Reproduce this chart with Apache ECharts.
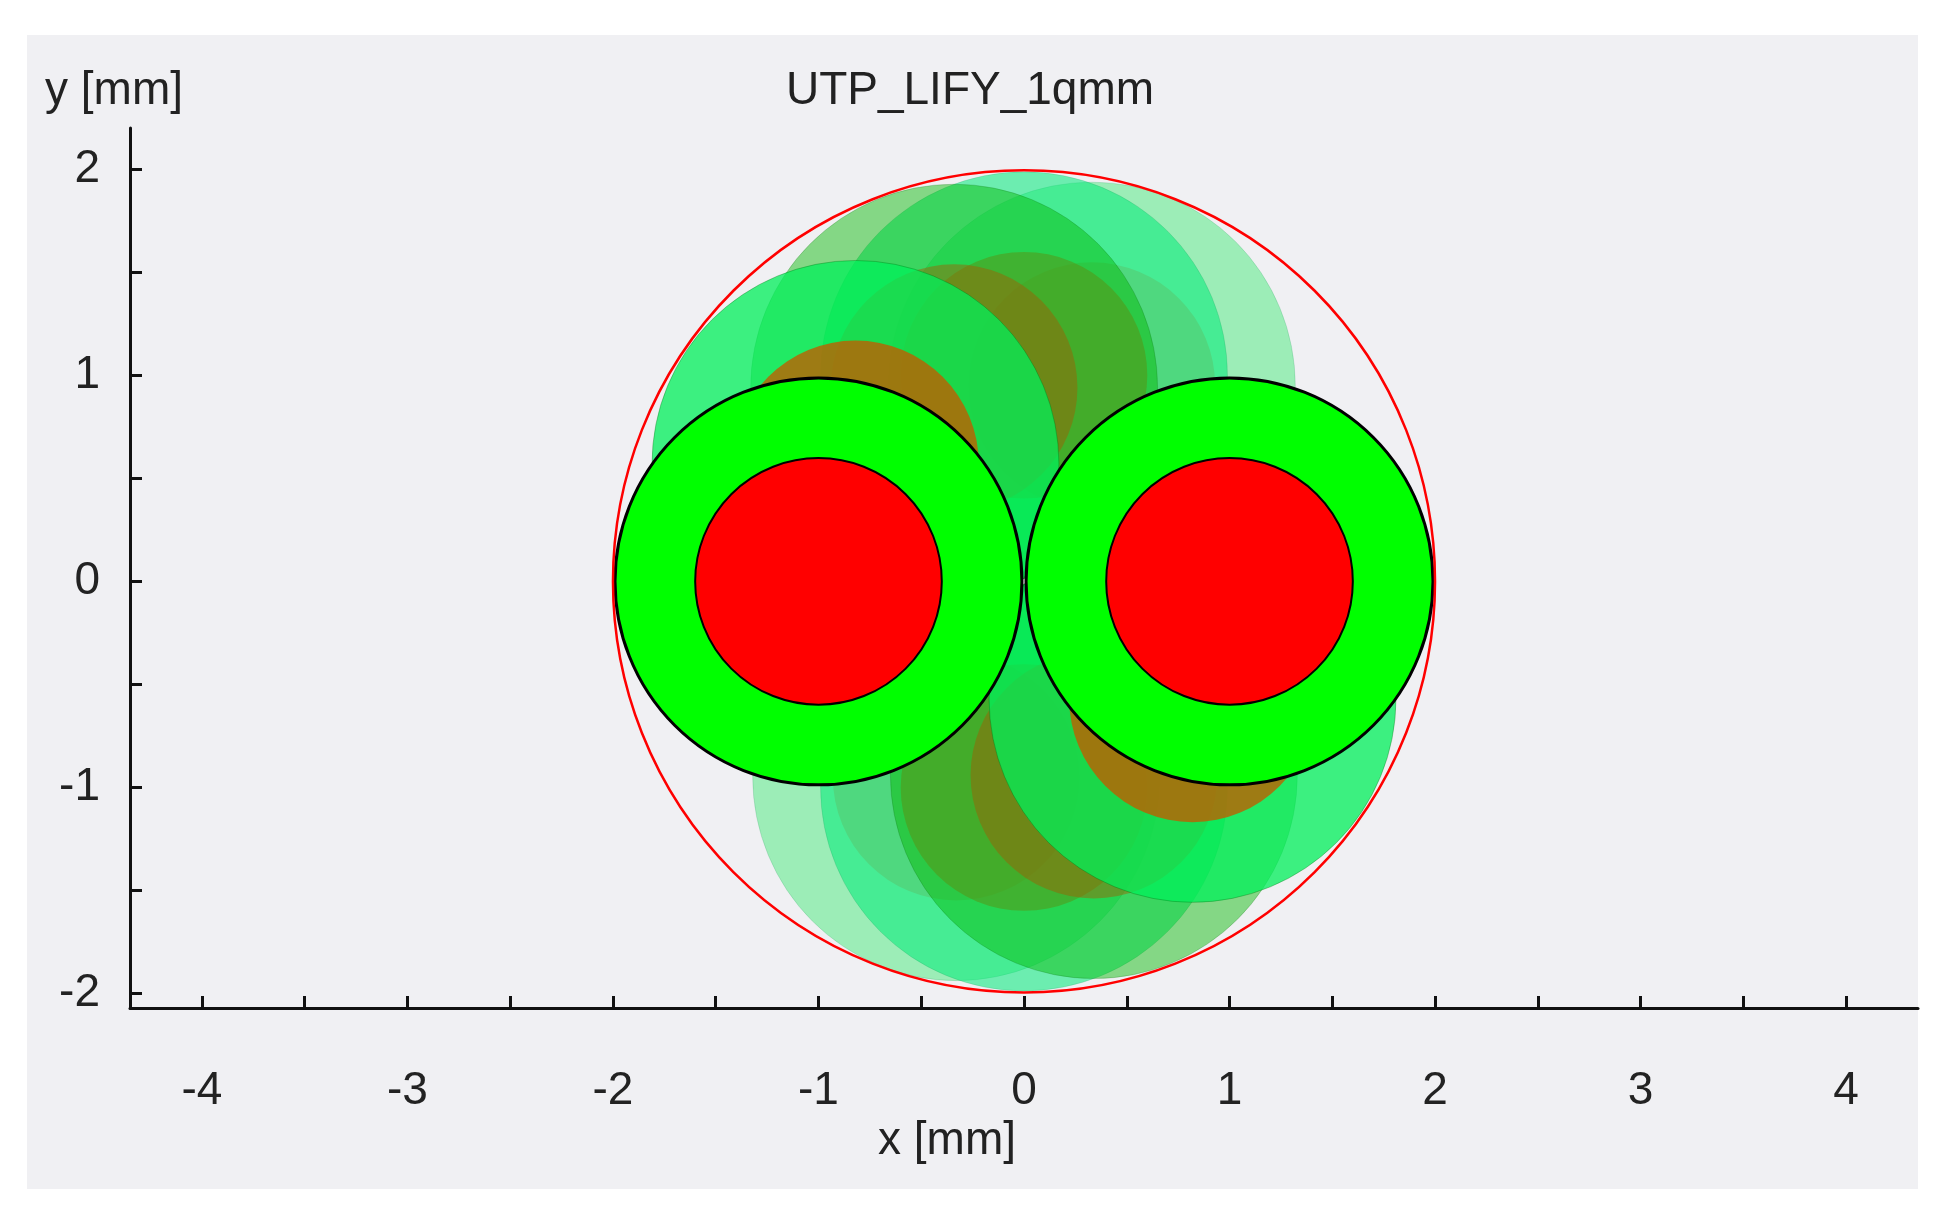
<!DOCTYPE html>
<html><head><meta charset="utf-8">
<script src="https://cdn.jsdelivr.net/npm/echarts@6/dist/echarts.min.js"></script>
<style>html,body{margin:0;background:#fff}#c{width:1940px;height:1218px}</style>
</head><body><div id="c"></div>
<script>
// data (mm)
const xTicks = [-4,-3.5,-3,-2.5,-2,-1.5,-1,-0.5,0,0.5,1,1.5,2,2.5,3,3.5,4];
const yTicks = [-2,-1.5,-1,-0.5,0,0.5,1,1.5,2];
const xLabels = [-4,-3,-2,-1,0,1,2,3,4];
const yLabels = [-2,-1,0,1,2];
const insulR = 0.99, coreR = 0.6, outerR = 2.0;
// twisted-pair shadow copies: centers of conductor 1 (conductor 2 is opposite)
const pairA = [0.33, 0.95];
const pairB = [0.0, 1.0];
const pairC = [-0.34, 0.94];
const pairD = [-0.82, 0.57];
const mainPair = [1.0, 0.0];
const outerCenter = [0, 0];

function pts(p, r){ return [[p[0],p[1],r],[-p[0],-p[1],r]]; }
function layer(data, fill, stroke, lw){
  return {type:'custom', coordinateSystem:'cartesian2d', data:data, silent:true,
    renderItem:function(params, api){
      const c = api.coord([api.value(0), api.value(1)]);
      const r = api.size([api.value(2), 0])[0];
      return {type:'circle', shape:{cx:c[0], cy:c[1], r:r},
        style:{fill:fill, stroke:stroke||null, lineWidth:lw||0}};
    }};
}
const series = [
  layer(pts(pairA, insulR), 'rgba(110,235,150,0.65)', 'rgba(0,120,60,0.15)', 1),
  layer(pts(pairA, coreR), 'rgba(195,150,90,0.5)'),
  layer(pts(pairB, insulR), 'rgba(0,235,120,0.55)', 'rgba(0,120,60,0.15)', 1),
  layer(pts(pairB, coreR), 'rgba(175,100,20,0.45)'),
  layer(pts(pairC, insulR), 'rgba(0,185,0,0.45)', 'rgba(0,90,0,0.2)', 1),
  layer(pts(pairC, coreR), 'rgba(165,90,0,0.45)'),
  layer(pts(pairD, insulR), 'rgba(0,240,90,0.75)', 'rgba(0,90,0,0.3)', 1),
  layer(pts(pairD, coreR), 'rgba(190,95,0,0.8)'),
  layer(pts(mainPair, insulR), '#00ff00', '#000', 3),
  layer(pts(mainPair, coreR), '#ff0000', '#000', 2),
  layer([[outerCenter[0], outerCenter[1], outerR]], 'rgba(0,0,0,0)', '#ff0000', 2.5)
];
const font = '"Liberation Sans", Arial, sans-serif';
const chart = echarts.init(document.getElementById('c'));
chart.setOption({
  animation:false,
  backgroundColor:'#ffffff',
  graphic:[
    {type:'rect', z:-10, shape:{x:27,y:35,width:1891,height:1154}, style:{fill:'#f0f0f3'}},
    {type:'text', left:45, top:68, style:{text:'y [mm]', font:'46px '+font, fill:'#222'}},
    {type:'text', left:'center', top:68, style:{text:'UTP_LIFY_1qmm', font:'46px '+font, fill:'#222'}, x:-0},
    {type:'text', left:878, top:1118, style:{text:'x [mm]', font:'46px '+font, fill:'#222'}}
  ],
  grid:{left:130, right:22, top:128, bottom:210},
  xAxis:{type:'value', min:-4.35, max:4.35, splitLine:{show:false},
    axisLine:{onZero:false, lineStyle:{color:'#111', width:3}},
    axisTick:{customValues:xTicks, length:12, inside:true, lineStyle:{color:'#111', width:3}},
    axisLabel:{customValues:xLabels, margin:60, fontSize:46, fontFamily:font, color:'#222'}},
  yAxis:{type:'value', min:-2.07, max:2.2, splitLine:{show:false},
    axisLine:{onZero:false, lineStyle:{color:'#111', width:3}},
    axisTick:{customValues:yTicks, length:12, inside:true, lineStyle:{color:'#111', width:3}},
    axisLabel:{customValues:yLabels, margin:30, fontSize:46, fontFamily:font, color:'#222'}},
  series:series
});
</script></body></html>
